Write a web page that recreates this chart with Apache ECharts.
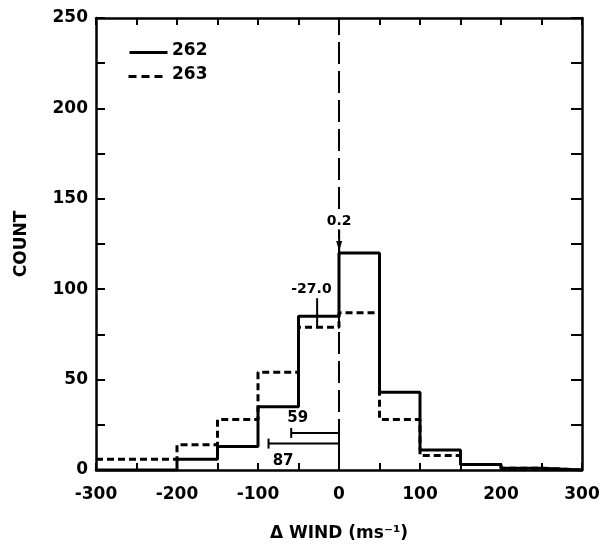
<!DOCTYPE html>
<html>
<head>
<meta charset="utf-8">
<script src="https://cdn.jsdelivr.net/npm/echarts@6/dist/echarts.min.js"></script>
<style>html,body{margin:0;padding:0;background:#fff}#c{width:609px;height:547px}</style>
</head>
<body>
<div id="c"></div>
<script>
// Bin left edges (ms^-1), bin width 50
const binEdges = [-300, -250, -200, -150, -100, -50, 0, 50, 100, 150, 200, 250, 300];
// Counts per bin
const counts262 = [0, 0, 6, 13, 35, 85, 120, 43, 11, 3, 1, 0];
const counts263 = [6, 6, 14, 28, 54, 79, 87, 28, 8, 3, 1, 0];
const seriesNames = ['262', '263'];
const xTickLabels = [-300, -200, -100, 0, 100, 200, 300];
const yTickLabels = [0, 50, 100, 150, 200, 250];
// Mean markers
const meanMarkers = [
  { x: 0.2, y0: 120, y1: 133, label: '0.2', labelX: 0.2, labelY: 137.5 },
  { x: -27.0, y0: 79, y1: 95, label: '-27.0', labelX: -34, labelY: 100 }
];
// Spread bars
const spreadBars = [
  { from: -59, to: 0, level: 20.5, label: '59', lx: -51, ly: 28.5, rightCap: false },
  { from: -87, to: 0, level: 14.6, label: '87', lx: -69, ly: 5, rightCap: true }
];

function stepData(vals) {
  const d = vals.map((v, i) => [binEdges[i], v]);
  d.push([binEdges[binEdges.length - 1], vals[vals.length - 1]]);
  return d;
}

const FONT = 'DejaVu Sans';
const chart = echarts.init(document.getElementById('c'), null, { renderer: 'canvas' });

function axisBase(tickLen) {
  return {
    axisLine: { onZero: false, lineStyle: { color: '#000', width: 2.5 } },
    splitLine: { show: false },
    axisTick: { inside: true, length: tickLen, lineStyle: { color: '#000', width: 2 } }
  };
}

const option = {
  animation: false,
  backgroundColor: '#fff',
  grid: { left: 96, right: 27, top: 18, bottom: 67 },
  graphic: [
    { type: 'line', left: 127, top: 50, shape: { x1: 0, y1: 0, x2: 38, y2: 0 }, style: { stroke: '#000', lineWidth: 3 } },
    { type: 'text', left: 172, top: 42, style: { text: seriesNames[0], fill: '#000', font: 'bold 17px "DejaVu Sans"' } },
    { type: 'line', left: 126, top: 74, shape: { x1: 0, y1: 0, x2: 38, y2: 0 }, style: { stroke: '#000', lineWidth: 3, lineDash: [8, 5] } },
    { type: 'text', left: 172, top: 66, style: { text: seriesNames[1], fill: '#000', font: 'bold 17px "DejaVu Sans"' } }
  ],
  xAxis: [
    Object.assign(axisBase(7), {
      type: 'value', min: -300, max: 300, interval: 50, position: 'bottom',
      name: 'Δ WIND (ms⁻¹)', nameLocation: 'middle', nameGap: 55,
      nameTextStyle: { fontFamily: FONT, fontWeight: 'bold', fontSize: 17, color: '#000' },
      axisLabel: {
        margin: 16, color: '#000', fontFamily: FONT, fontWeight: 'bold', fontSize: 17,
        formatter: v => xTickLabels.indexOf(v) >= 0 ? String(v) : ''
      }
    }),
    Object.assign(axisBase(7), {
      type: 'value', min: -300, max: 300, interval: 50, position: 'top',
      axisLabel: { show: false }
    })
  ],
  yAxis: [
    Object.assign(axisBase(9), {
      type: 'value', min: 0, max: 250, interval: 25, position: 'left',
      name: 'COUNT', nameLocation: 'middle', nameGap: 66, nameRotate: 90,
      nameTextStyle: { fontFamily: FONT, fontWeight: 'bold', fontSize: 17, color: '#000' },
      axisLabel: {
        margin: 8, color: '#000', fontFamily: FONT, fontWeight: 'bold', fontSize: 17,
        formatter: v => yTickLabels.indexOf(v) >= 0 ? String(v) : ''
      }
    }),
    Object.assign(axisBase(11), {
      type: 'value', min: 0, max: 250, interval: 25, position: 'right',
      axisLabel: { show: false }
    })
  ],
  series: [
    {
      name: seriesNames[0], type: 'line', step: 'end', symbol: 'none',
      data: stepData(counts262),
      lineStyle: { color: '#000', width: 3 },
      itemStyle: { color: '#000' },
      z: 5,
      markLine: {
        silent: true, symbol: 'none',
        lineStyle: { color: '#000', width: 2, type: [22, 7] },
        label: { show: false },
        data: [[{ coord: [0, 0] }, { coord: [0, 247] }]]
      }
    },
    {
      name: seriesNames[1], type: 'line', step: 'end', symbol: 'none',
      data: stepData(counts263),
      lineStyle: { color: '#000', width: 3, type: [7, 4] },
      itemStyle: { color: '#000' },
      z: 4
    },
    {
      type: 'custom', silent: true, z: 6,
      data: meanMarkers.map(m => [m.x, m.y0, m.y1, m.labelX, m.labelY]),
      renderItem: function (params, api) {
        const m = meanMarkers[params.dataIndex];
        const p0 = api.coord([api.value(0), api.value(1)]);
        const p1 = api.coord([api.value(0), api.value(2)]);
        const pl = api.coord([api.value(3), api.value(4)]);
        const children = [
          { type: 'line', shape: { x1: p0[0], y1: p0[1], x2: p1[0], y2: p1[1] }, style: { stroke: '#000', lineWidth: 2 } },
          { type: 'text', style: { x: pl[0], y: pl[1], text: m.label, align: 'center', verticalAlign: 'middle', fill: '#000', backgroundColor: '#fff', padding: [1, 1], font: 'bold 14px "DejaVu Sans"' } }
        ];
        if (params.dataIndex === 0) {
          children.push({ type: 'polygon', shape: { points: [[p0[0] - 3, p0[1] - 12], [p0[0] + 3, p0[1] - 12], [p0[0], p0[1] - 2]] }, style: { fill: '#000' } });
        }
        return { type: 'group', children: children };
      }
    },
    {
      type: 'custom', silent: true, z: 6,
      data: spreadBars.map(b => [b.from, b.to, b.level, b.lx, b.ly]),
      renderItem: function (params, api) {
        const b = spreadBars[params.dataIndex];
        const a = api.coord([api.value(0), api.value(2)]);
        const c = api.coord([api.value(1), api.value(2)]);
        const l = api.coord([api.value(3), api.value(4)]);
        const st = { stroke: '#000', lineWidth: 2 };
        const children = [
          { type: 'line', shape: { x1: a[0], y1: a[1], x2: c[0], y2: c[1] }, style: st },
          { type: 'line', shape: { x1: a[0], y1: a[1] - 5, x2: a[0], y2: a[1] + 5 }, style: st },
          { type: 'text', style: { x: l[0], y: l[1], text: b.label, align: 'center', verticalAlign: 'middle', fill: '#000', font: 'bold 15px "DejaVu Sans"' } }
        ];
        if (b.rightCap) {
          children.push({ type: 'line', shape: { x1: c[0], y1: c[1] - 5, x2: c[0], y2: c[1] + 5 }, style: st });
        }
        return { type: 'group', children: children };
      }
    }
  ]
};
chart.setOption(option);
</script>
</body>
</html>
